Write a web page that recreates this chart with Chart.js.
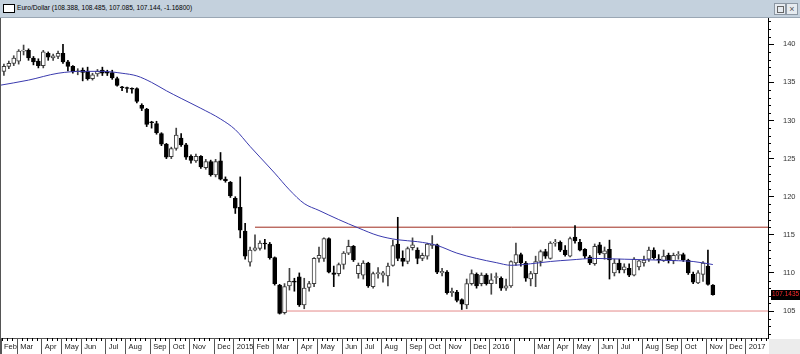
<!DOCTYPE html>
<html>
<head>
<meta charset="utf-8">
<script src="https://cdn.jsdelivr.net/npm/chart.js@4.4.1/dist/chart.umd.min.js"></script>
<style>
html, body { margin: 0; padding: 0; background: #fff; }
#wrap { position: relative; width: 800px; height: 354px; overflow: hidden; font-family: "Liberation Sans", Arial, sans-serif; }
#bar { position: absolute; left: 0; top: 0; width: 800px; height: 17px; background: #c4d1dd; border-bottom: 1px solid #9aa7b4; }
#icon { position: absolute; left: 3px; top: 4px; width: 10px; height: 7px; border: 1px solid #000; background: #fff; }
#title { position: absolute; left: 17px; top: 3px; font-size: 6.6px; line-height: 10px; color: #000; white-space: nowrap; }
.btn { position: absolute; top: 3px; width: 10px; height: 10px; border: 1px solid #8c97a3; background: #e6ebf0; font-size: 9px; line-height: 10px; text-align: center; color: #555; }
.btn .sq { position: absolute; left: 2px; top: 2px; width: 5px; height: 5px; border: 1px solid #666; }
#frame { position: absolute; left: 0; top: 18px; width: 1px; height: 336px; background: #555; }
#corner { position: absolute; left: 769px; top: 339px; width: 31px; height: 15px; background: #ececec; }
#c { position: absolute; left: 1px; top: 18px; }
</style>
</head>
<body>
<div id="wrap">
  <div id="bar">
    <div id="icon"></div>
    <div id="title">Euro/Dollar (108.388, 108.485, 107.085, 107.144, -1.16800)</div>
    <div class="btn" style="left:774px"><div class="sq"></div></div>
    <div class="btn" style="left:786px">×</div>
  </div>
  <div id="frame"></div>
  <div id="corner"></div>
  <canvas id="c" width="799" height="336" style="width:799px;height:336px"></canvas>
</div>
<script>
// weekly candles, week 0 = 9 Feb 2014
const opens = [136.45,137.1,137.5,137.8,139.1,139.2,138.2,137.8,137.2,138.8,
  138.2,138.4,138.8,137.7,137.1,136.4,136.6,136.5,135.5,136.1,
  136.6,136.3,136.3,135.5,134.4,134.3,134.2,134.2,132.0,131.5,
  129.8,129.6,128.3,126.9,125.25,126.35,127.7,126.8,125.3,124.7,
  125.3,123.8,124.6,122.85,124.7,122.3,121.9,119.8,118.6,115.5,
  111.4,113.0,113.2,113.9,113.8,112.0,108.4,104.8,108.3,108.9,
  109.5,105.8,108.1,108.6,111.9,111.9,114.5,110.0,109.9,111.1,
  112.6,113.5,109.9,109.7,111.3,108.2,109.9,109.7,109.6,111.0,
  113.8,111.9,111.5,113.3,113.0,111.9,112.2,113.6,113.7,110.0,
  110.1,107.4,107.5,106.5,105.8,108.6,109.8,108.6,109.7,108.6,
  109.4,109.3,108.0,108.3,111.3,112.4,111.3,109.2,109.9,111.5,
  112.8,111.9,113.9,114.0,113.0,112.2,114.7,114.0,113.1,112.1,
  111.2,113.7,112.5,113.1,110.0,111.3,110.4,110.6,109.7,110.8,
  111.3,111.8,113.0,111.8,111.6,112.3,111.6,112.3,112.4,111.7,
  109.8,108.7,109.8,110.9,108.388];
const highs = [137.4,137.8,138.5,139.3,139.9,139.4,138.4,138.1,139.2,139.0,
  138.7,139.1,140.0,137.9,137.2,136.8,136.9,137.0,136.2,136.7,
  137.0,136.6,136.6,135.7,134.5,134.4,134.3,134.3,132.2,131.6,
  129.9,129.9,128.4,127.0,126.5,129.0,128.3,127.0,125.5,125.6,
  125.4,124.9,124.8,124.9,125.8,122.6,122.0,120.0,122.6,116.5,
  113.4,115.0,114.2,114.4,114.0,112.1,108.5,108.6,110.6,109.3,
  110.0,109.3,108.9,112.0,113.4,114.6,114.6,110.9,111.3,112.8,
  114.3,113.6,111.3,111.6,111.4,110.1,110.7,110.2,111.3,114.3,
  117.3,112.9,113.4,114.6,113.3,112.6,113.9,114.9,113.8,110.6,
  110.3,108.0,107.7,106.6,109.2,110.4,110.0,110.0,109.9,109.9,
  110.0,109.5,109.2,111.6,113.9,112.6,111.5,110.2,112.2,113.0,
  113.1,114.1,114.4,114.2,113.6,114.7,116.2,114.4,113.2,112.3,
  113.8,114.0,113.4,114.3,111.8,111.8,111.2,111.2,112.0,111.7,
  112.2,113.4,113.3,112.4,113.0,112.6,112.6,112.8,112.6,111.8,
  110.1,110.3,111.5,113.0,108.485];
const lows = [135.9,136.8,137.2,137.4,138.6,137.9,137.3,136.9,136.9,137.9,
  137.9,138.1,137.5,136.5,136.2,136.0,135.2,135.3,135.3,135.8,
  135.9,135.9,135.4,134.5,133.9,133.7,133.6,132.3,131.3,129.2,
  129.0,128.2,126.7,125.0,125.0,126.1,126.6,124.9,124.4,124.5,
  123.7,123.6,122.7,122.6,122.2,121.9,119.9,117.8,114.6,111.8,
  110.9,112.9,113.0,113.1,111.8,108.4,104.6,104.6,107.75,107.6,
  105.6,105.3,107.6,108.2,111.4,111.5,110.0,108.2,109.6,110.5,
  112.4,111.5,109.3,109.2,108.1,108.0,109.3,108.8,108.3,110.9,
  111.6,110.9,111.2,113.0,111.2,111.6,111.8,113.2,109.9,109.6,
  107.2,106.9,106.2,105.2,105.3,108.4,108.0,108.3,108.4,107.2,
  108.6,107.7,107.7,108.1,111.0,110.9,108.9,108.3,108.2,110.9,
  111.9,111.8,113.5,112.8,112.2,112.1,113.9,112.9,111.9,111.1,
  111.0,112.4,111.8,109.2,109.6,110.0,110.0,109.5,109.6,110.4,
  110.9,111.5,111.8,111.3,111.5,111.3,111.2,111.8,111.5,109.8,
  108.6,108.6,108.9,108.4,107.085];
const closes = [137.1,137.5,138.2,139.1,139.2,138.2,137.7,137.2,139.0,138.3,
  138.5,138.8,137.7,137.1,136.4,136.5,136.3,135.5,136.0,136.5,
  136.2,136.2,135.6,134.6,134.3,134.2,134.1,132.5,131.6,129.5,
  129.7,128.4,126.9,125.2,126.3,128.1,126.8,125.2,124.75,125.3,
  123.9,124.6,122.9,124.6,122.3,122.1,120.1,118.5,115.6,112.2,
  113.0,113.3,113.9,113.8,112.0,108.6,104.7,108.2,108.9,108.8,
  105.8,108.0,108.6,111.9,112.3,114.5,110.1,109.8,111.1,112.6,
  113.5,111.7,111.0,111.3,108.3,109.9,110.0,110.0,110.9,113.6,
  111.9,111.5,113.2,113.7,111.9,112.3,113.8,113.8,110.1,110.2,
  107.4,107.6,106.4,105.9,108.6,109.9,108.3,109.7,108.6,109.1,
  109.45,108.0,108.3,111.5,112.4,111.3,109.3,109.9,111.5,112.8,
  112.2,113.9,114.0,113.0,112.4,114.5,114.2,113.0,112.2,111.3,
  113.5,112.6,112.9,111.7,111.3,110.4,110.8,109.7,111.8,111.6,
  111.7,113.0,112.0,111.7,112.2,111.6,112.3,112.4,111.7,110.0,
  108.8,110.0,111.3,108.5,107.144];

// moving average (read at a few weeks)
const maWeeks = [-1,5,11,16,20,24,27,30,33,36,40,44,47,50,52,55,58,61,64,68,72,76,80,84,88,92,96,100,103,107,111,115,120,126,132,137,140,144];
const maValues = [134.6,135.3,136.2,136.45,136.45,136.2,135.85,135.0,133.9,132.9,131.6,130.2,128.8,126.6,125.2,123.1,120.9,119.1,118.2,117.0,115.9,114.9,114.35,114.1,113.6,112.6,111.9,111.35,111.0,111.2,111.5,111.7,111.9,111.8,111.7,111.6,111.5,111.1];

// horizontal levels
const resistance = 116.0, resistanceFrom = 51;
const support = 105.0, supportFrom = 56;
const lastPrice = 107.1435;

// x axis: first week of each month
const monthWeeks = [-0.29,3,8,12,16,21,25,30,34,38,43,47,51,55,60,64,69,73,77,82,86,90,95,99,104,108,112,116,121,125,130,134,138,143,147,151];
const monthLabels = ['Feb','Mar','Apr','May','Jun','Jul','Aug','Sep','Oct','Nov','Dec','2015','Feb','Mar','Apr','May','Jun','Jul','Aug','Sep','Oct','Nov','Dec','2016','','Mar','Apr','May','Jun','Jul','Aug','Sep','Oct','Nov','Dec','2017'];
const yLabels = [105,110,115,120,125,130,135,140];

const xMin = -0.59, xMax = 155.2;
const yMin = 101.46, yMax = 143.45;
const sepShift = 0.3;
const axisFont = {family: 'Liberation Sans', size: 7.5};

const wicks = opens.map((o, i) => ({x: i, y: [lows[i], highs[i]]}));
const bodies = opens.map((o, i) => ({x: i, y: [o, closes[i]]}));
const maLine = maWeeks.map((w, i) => ({x: w, y: maValues[i]}));
const isUp = i => closes[i] >= opens[i];

const extras = {
  id: 'extras',
  afterDraw(chart) {
    const {ctx, scales: {x, y}} = chart;
    ctx.save();
    ctx.strokeStyle = '#000';
    ctx.lineWidth = 1;
    ctx.beginPath();
    for (let v = Math.ceil(y.min); v <= y.max; v++) {
      if (v % 5 === 0) continue;
      const py = Math.round(y.getPixelForValue(v)) + 0.5;
      ctx.moveTo(y.left, py);
      ctx.lineTo(y.left + 3, py);
    }
    for (let w = 0; w < x.max; w++) {
      if (monthWeeks.includes(w)) continue;
      const px = Math.round(x.getPixelForValue(w - sepShift)) + 0.5;
      ctx.moveTo(px, x.top);
      ctx.lineTo(px, x.top + 3);
    }
    ctx.stroke();

    // last price tag
    const py = y.getPixelForValue(lastPrice);
    ctx.fillStyle = '#000';
    ctx.fillRect(y.left + 3, Math.round(py) - 5, 32, 10);
    ctx.fillStyle = '#ff2a2a';
    ctx.font = '6.5px "Liberation Sans"';
    ctx.textBaseline = 'middle';
    ctx.fillText(lastPrice.toFixed(4), y.left + 4, py);
    ctx.restore();
  }
};

new Chart(document.getElementById('c'), {
  type: 'bar',
  data: {
    datasets: [
      {type: 'line', data: maLine, borderColor: '#3a3aae', borderWidth: 1, pointRadius: 0, cubicInterpolationMode: 'monotone', order: 0},
      {type: 'line', data: [{x: resistanceFrom, y: resistance}, {x: xMax, y: resistance}], borderColor: '#9e2b1d', borderWidth: 1, pointRadius: 0, order: 4},
      {type: 'line', data: [{x: supportFrom, y: support}, {x: xMax, y: support}], borderColor: '#e48a8a', borderWidth: 1, pointRadius: 0, order: 4},
      {data: wicks, backgroundColor: ctx => isUp(ctx.dataIndex) ? '#444' : '#000', barThickness: 1, grouped: false, order: 2},
      {data: bodies,
       backgroundColor: ctx => isUp(ctx.dataIndex) ? '#fff' : '#000',
       borderColor: ctx => isUp(ctx.dataIndex) ? '#3c3c3c' : '#000',
       borderWidth: 1, borderSkipped: false,
       barThickness: 4, minBarLength: 1, grouped: false, order: 1}
    ]
  },
  options: {
    responsive: false,
    animation: false,
    events: [],
    layout: {padding: 0},
    plugins: {legend: {display: false}, tooltip: {enabled: false}},
    scales: {
      x: {
        type: 'linear', position: 'bottom', min: xMin, max: xMax, offset: false,
        grid: {drawOnChartArea: false, drawTicks: true, tickLength: 16, color: '#555', offset: false},
        border: {display: true, color: '#555'},
        ticks: {autoSkip: false, maxRotation: 0, minRotation: 0, align: 'start', labelOffset: 3, padding: -12,
                color: '#222', font: axisFont, callback: (v, i) => monthLabels[i]},
        afterBuildTicks: s => { s.ticks = monthWeeks.map(w => ({value: w - sepShift})); },
        afterFit: s => { s.height = 16; s.paddingLeft = 0; s.paddingRight = 0; }
      },
      y: {
        type: 'linear', position: 'right', min: yMin, max: yMax,
        grid: {drawOnChartArea: false, drawTicks: true, tickLength: 6, color: '#000'},
        border: {display: true, color: '#000'},
        ticks: {padding: 9, color: '#333', font: axisFont, callback: v => String(v)},
        afterBuildTicks: s => { s.ticks = yLabels.map(v => ({value: v})); },
        afterFit: s => { s.width = 32; s.paddingTop = 0; s.paddingBottom = 0; }
      }
    }
  },
  plugins: [extras]
});
</script>
</body>
</html>
